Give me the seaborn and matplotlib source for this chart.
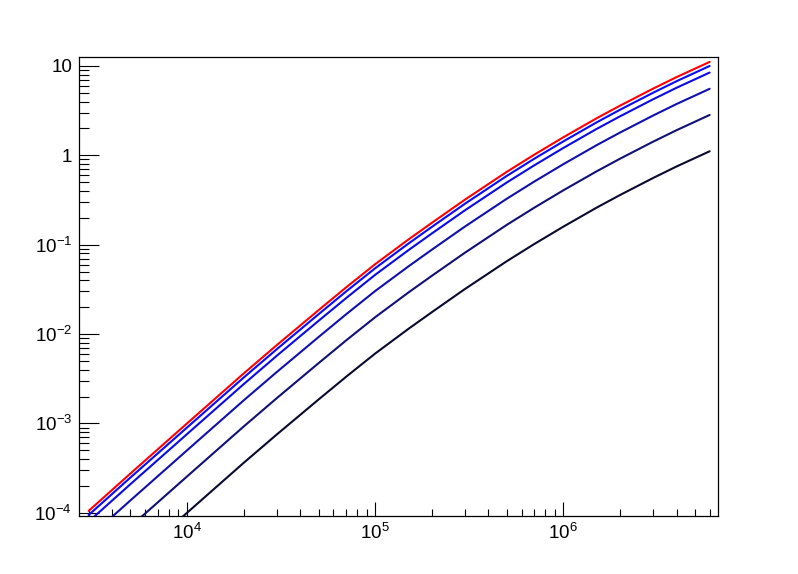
import matplotlib
matplotlib.use('Agg')
import matplotlib.pyplot as plt
import matplotlib.ticker as mticker
import numpy as np
import pandas as pd
import seaborn as sns

# x values shared by all curves
x_vals = [3000, 5000, 1e4, 2e4, 3e4, 5e4, 7e4, 1e5, 1.5e5, 2e5, 3e5, 5e5, 7e5,
          1e6, 1.5e6, 2e6, 3e6, 4e6, 6e6]

# curve values (top to bottom)
red = [1.05e-4, 2.75e-4, 1.0e-3, 3.62e-3, 7.52e-3, 1.85e-2, 3.32e-2, 6.05e-2, 0.114, 0.1755,
       0.319, 0.652, 1.015, 1.59, 2.59, 3.59, 5.57, 7.5, 11.1]
blue1 = [9.45e-5, 2.48e-4, 9.0e-4, 3.26e-3, 6.77e-3, 1.665e-2, 2.99e-2, 5.45e-2, 0.1026, 0.158,
         0.287, 0.587, 0.914, 1.43, 2.33, 3.23, 5.01, 6.75, 10.0]
blue2 = [7.98e-5, 2.09e-4, 7.6e-4, 2.75e-3, 5.72e-3, 1.406e-2, 2.52e-2, 4.6e-2, 0.0866, 0.1334,
         0.2424, 0.4955, 0.771, 1.208, 1.968, 2.728, 4.233, 5.7, 8.44]
blue3 = [5.25e-5, 1.375e-4, 5.0e-4, 1.81e-3, 3.76e-3, 9.25e-3, 1.66e-2, 3.03e-2, 0.057, 0.0878,
         0.1595, 0.326, 0.5075, 0.795, 1.295, 1.795, 2.785, 3.75, 5.55]
blue4 = [2.68e-5, 7.01e-5, 2.55e-4, 9.23e-4, 1.918e-3, 4.72e-3, 8.47e-3, 1.543e-2, 0.0291, 0.0448,
         0.0813, 0.1663, 0.2588, 0.4055, 0.660, 0.915, 1.42, 1.91, 2.83]
black = [1.05e-5, 2.75e-5, 1.0e-4, 3.62e-4, 7.52e-4, 1.85e-3, 3.32e-3, 6.05e-3, 0.0114, 0.01755,
         0.0319, 0.0652, 0.1015, 0.159, 0.259, 0.359, 0.557, 0.75, 1.11]

series = {'black': black, 'blue4': blue4, 'blue3': blue3, 'blue2': blue2, 'blue1': blue1, 'red': red}
colors = {'black': '#0a0a30', 'blue4': '#101075', 'blue3': '#1010aa', 'blue2': '#0a0ae6',
          'blue1': '#0a0af8', 'red': '#ff0000'}

df = pd.concat([pd.DataFrame({'x': x_vals, 'y': v, 'curve': k}) for k, v in series.items()])

sns.set_style('ticks')
plt.rcParams['font.family'] = ['Liberation Sans', 'DejaVu Sans']
plt.rcParams['mathtext.fontset'] = 'custom'
plt.rcParams['mathtext.rm'] = 'Liberation Sans'
plt.rcParams['mathtext.it'] = 'Liberation Sans:italic'

fig = plt.figure(figsize=(7.98, 5.74), dpi=100)
ax = fig.add_axes([0.099, 0.101, 0.8008, 0.7997])
sns.lineplot(data=df, x='x', y='y', hue='curve', palette=colors, hue_order=list(series.keys()),
             linewidth=1.5, legend=False, ax=ax, sort=True, estimator=None)
ax.set_xscale('log')
ax.set_yscale('log')
ax.set_xlim(2665, 6.65e6)
ax.set_ylim(9.2e-5, 12.6)
ax.set_xlabel('')
ax.set_ylabel('')


def fmt(v, pos):
    e = int(round(np.log10(v)))
    if e == 0:
        return '1'
    if e == 1:
        return '10'
    return r'$\mathregular{10^{%d}}$' % e


for axis in (ax.xaxis, ax.yaxis):
    axis.set_major_locator(mticker.LogLocator(base=10))
    axis.set_minor_locator(mticker.LogLocator(base=10, subs=np.arange(2, 10)))
    axis.set_major_formatter(mticker.FuncFormatter(fmt))
    axis.set_minor_formatter(mticker.NullFormatter())

ax.tick_params(axis='both', which='both', direction='in', top=False, right=False,
               width=0.8, color='black', labelsize=13.5, labelcolor='black')
ax.tick_params(axis='y', which='major', length=14.4, pad=5)
ax.tick_params(axis='y', which='minor', length=7.2)
ax.tick_params(axis='x', which='major', length=10, pad=5)
ax.tick_params(axis='x', which='minor', length=5)
for s in ax.spines.values():
    s.set_linewidth(0.9)
    s.set_color('black')

fig.savefig('out.png', dpi=100)
